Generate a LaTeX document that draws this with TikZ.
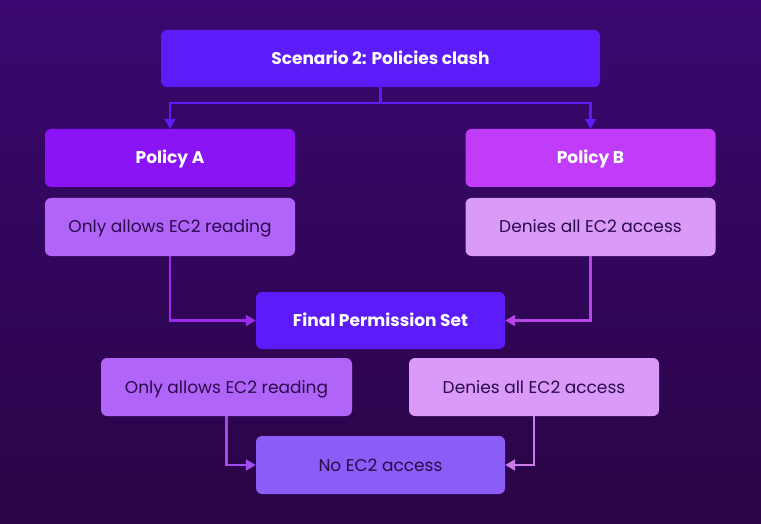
\documentclass[tikz,border=0pt]{standalone}
\usepackage{fontspec}
\setmainfont{Poppins}
\usetikzlibrary{arrows.meta}
\definecolor{bgtop}{HTML}{3A0870}
\definecolor{bgbot}{HTML}{2A0446}
\definecolor{cmain}{HTML}{5C1CFA}
\definecolor{cpa}{HTML}{8A14F6}
\definecolor{cpad}{HTML}{B065F8}
\definecolor{cpb}{HTML}{C03CF8}
\definecolor{cpbd}{HTML}{DA9AF8}
\definecolor{cno}{HTML}{8B5CF6}
\definecolor{darktext}{HTML}{2A0A4A}
\definecolor{lineA}{HTML}{9A2BEF}
\definecolor{lineB}{HTML}{B845E8}
\definecolor{lineC}{HTML}{A04CEE}
\definecolor{lineD}{HTML}{CC7BE8}
\tikzset{
  box/.style={rectangle, rounded corners=6pt, inner sep=0pt, minimum width=250pt, minimum height=58pt, align=center, text height=12pt, text depth=0pt},
  headbox/.style={box, text=white, font=\fontsize{17}{20}\selectfont\bfseries},
  descbox/.style={box, text=darktext, font=\fontsize{17}{20}\selectfont},
  conn/.style={line width=2.2pt, -{Triangle[length=10pt,width=11pt]}},
}
\begin{document}
\begin{tikzpicture}[x=1pt,y=-1pt]
\shade[top color=bgtop, bottom color=bgbot] (0,0) rectangle (761,524);
\useasboundingbox (0,0) rectangle (761,524);
\node[headbox, fill=cmain, minimum width=439pt, minimum height=57pt] (top) at (380.5,58.5) {Scenario 2: Policies clash};
\node[headbox, fill=cpa] (pa) at (170,158) {Policy A};
\node[descbox, fill=cpad] (pad) at (170,227) {Only allows EC2 reading};
\node[headbox, fill=cpb] (pb) at (590.5,158) {Policy B};
\node[descbox, fill=cpbd] (pbd) at (590.5,227) {Denies all EC2 access};
\node[headbox, fill=cmain, minimum width=249pt, minimum height=57pt] (fin) at (380.5,320.5) {Final Permission Set};
\node[descbox, fill=cpad, minimum width=251pt] (bl) at (226.5,387) {Only allows EC2 reading};
\node[descbox, fill=cpbd] (br) at (534,387) {Denies all EC2 access};
\node[descbox, fill=cno, minimum width=249pt] (no) at (380.5,465) {No EC2 access};
\draw[conn, cmain] (top.south) -- ++(0,16) -| (pa.north);
\draw[conn, cmain] (top.south) -- ++(0,16) -| (pb.north);
\draw[conn, lineA] (pad.south) |- (fin.west);
\draw[conn, lineB] (pbd.south) |- (fin.east);
\draw[conn, lineC] (bl.south) |- (no.west);
\draw[conn, lineD] (br.south) |- (no.east);
\end{tikzpicture}
\end{document}
